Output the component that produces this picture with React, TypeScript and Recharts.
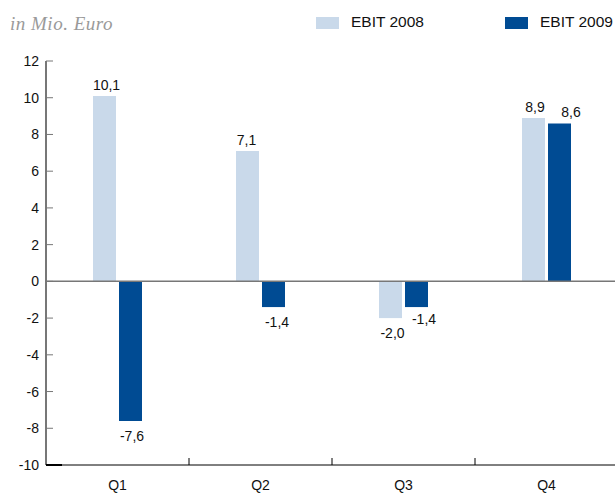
import React from 'react'
import { BarChart, Bar, XAxis, YAxis, ReferenceLine, LabelList } from 'recharts'

const QUARTERS = ['Q1', 'Q2', 'Q3', 'Q4']
const EBIT_2008 = [10.1, 7.1, -2.0, 8.9]
const EBIT_2009 = [-7.6, -1.4, -1.4, 8.6]
const Y_TICKS = [-10, -8, -6, -4, -2, 0, 2, 4, 6, 8, 10, 12]

// small nudges so the value labels sit where the original has them
const DX_2008 = [2, -1, 2, 1.5]
const DX_2009 = [1.5, 3.5, 7.5, 11.5]
const DY_2009 = [0, 0, -3, 0]

const LIGHT = '#c9d9ea'
const DARK = '#004b93'
const GREY = '#777777'
const FONT = '"Liberation Sans", Arial, sans-serif'

const CHART_W = 620
const CHART_H = 494
const AXIS_X = 46
const AXIS_Y = 465
const BAND = (CHART_W - AXIS_X - 2) / QUARTERS.length

const data = QUARTERS.map((q, i) => ({ name: q, ebit2008: EBIT_2008[i], ebit2009: EBIT_2009[i] }))

const fmt = (v: number) => v.toFixed(1).replace('.', ',')

function valueLabel(dxs: number[], dys: number[]) {
  return (props: any) => {
    const { x, y, width, height, value, index } = props
    const top = Math.min(y, y + height)
    const bottom = Math.max(y, y + height)
    const ty = value >= 0 ? top - 6 : bottom + 20
    return (
      <text
        x={x + width / 2 + dxs[index]}
        y={ty + dys[index]}
        textAnchor="middle"
        fontFamily={FONT}
        fontSize={14}
        fill="#111"
      >
        {fmt(value)}
      </text>
    )
  }
}

function YTick(props: any) {
  const { y, payload } = props
  const last = payload.value === -10
  return (
    <g>
      <line
        x1={AXIS_X}
        x2={AXIS_X + (last ? 16 : 7)}
        y1={y}
        y2={y}
        stroke={last ? '#000' : GREY}
        strokeWidth={last ? 2 : 1}
      />
      <text x={39} y={y + 5} textAnchor="end" fontFamily={FONT} fontSize={14} fill="#111">
        {payload.value}
      </text>
    </g>
  )
}

function XTick(props: any) {
  const { x, payload } = props
  return (
    <g>
      <line x1={x + BAND / 2} x2={x + BAND / 2} y1={AXIS_Y - 7} y2={AXIS_Y} stroke="#000" strokeWidth={1} />
      <text x={x} y={AXIS_Y + 25} textAnchor="middle" fontFamily={FONT} fontSize={14} fill="#111">
        {payload.value}
      </text>
    </g>
  )
}

export default function App() {
  return (
    <div style={{ position: 'absolute', left: 0, top: 0, width: 615, height: CHART_H, overflow: 'hidden', background: '#fff' }}>
      <div
        style={{
          position: 'absolute', left: 10, top: 13, fontFamily: '"Liberation Serif", "DejaVu Serif", serif',
          fontStyle: 'italic', fontSize: 19, letterSpacing: 0.5, color: '#9a9a9a',
        }}
      >
        in Mio. Euro
      </div>
      <div style={{ position: 'absolute', left: 316, top: 17, width: 23, height: 12, background: LIGHT }} />
      <div style={{ position: 'absolute', left: 351, top: 13, fontFamily: FONT, fontSize: 15.5, color: '#111' }}>EBIT 2008</div>
      <div style={{ position: 'absolute', left: 505, top: 17, width: 23, height: 12, background: DARK }} />
      <div style={{ position: 'absolute', left: 540, top: 13, fontFamily: FONT, fontSize: 15.5, color: '#111' }}>EBIT 2009</div>

      <BarChart
        width={CHART_W}
        height={CHART_H}
        data={data}
        margin={{ top: 61, right: 2, left: 0, bottom: 0 }}
        barSize={23}
        barGap={3}
      >
        <XAxis
          dataKey="name"
          height={29}
          axisLine={{ stroke: '#000', strokeWidth: 1 }}
          tickLine={false}
          tick={<XTick />}
          interval={0}
        />
        <YAxis
          width={AXIS_X}
          domain={[-10, 12]}
          ticks={Y_TICKS}
          interval={0}
          axisLine={{ stroke: GREY, strokeWidth: 2 }}
          tickLine={false}
          tick={<YTick />}
        />
        <Bar dataKey="ebit2008" fill={LIGHT} isAnimationActive={false}>
          <LabelList dataKey="ebit2008" content={valueLabel(DX_2008, [0, 0, 0, 0])} />
        </Bar>
        <Bar dataKey="ebit2009" fill={DARK} isAnimationActive={false}>
          <LabelList dataKey="ebit2009" content={valueLabel(DX_2009, DY_2009)} />
        </Bar>
        <ReferenceLine y={0} stroke={GREY} strokeWidth={1.5} />
      </BarChart>
    </div>
  )
}
